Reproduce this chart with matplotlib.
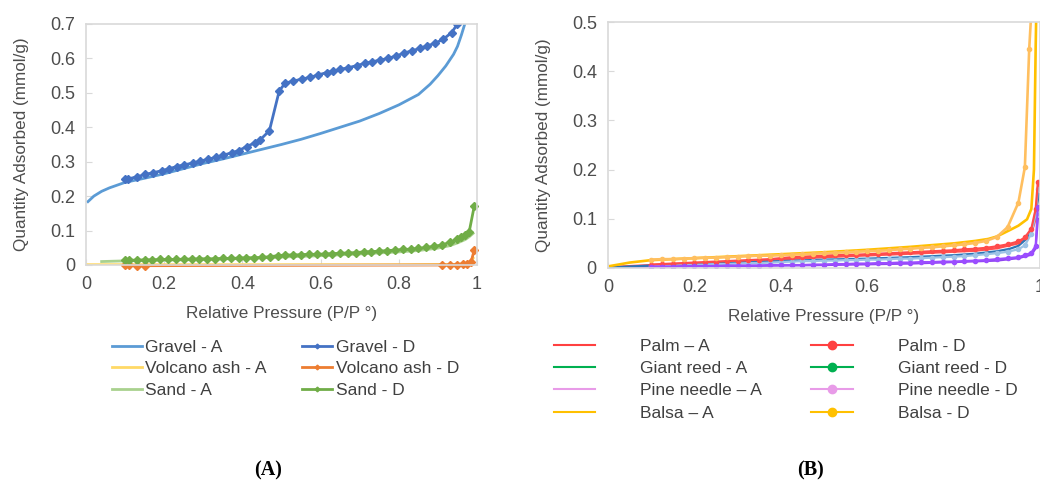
import matplotlib
matplotlib.use("Agg")
import matplotlib.pyplot as plt
from matplotlib.lines import Line2D

plt.rcParams['font.family'] = ['Liberation Sans', 'DejaVu Sans']

# ---------------- panel A data ----------------
gravel_a_x = [0.005, 0.02, 0.04, 0.06, 0.08, 0.1, 0.15, 0.2, 0.25, 0.3, 0.35, 0.4, 0.45, 0.5, 0.55,
              0.6, 0.65, 0.7, 0.75, 0.8, 0.85, 0.88, 0.9, 0.92, 0.94, 0.95, 0.96, 0.97, 0.98]
gravel_a_y = [0.184, 0.200, 0.214, 0.224, 0.232, 0.240, 0.252, 0.265, 0.280, 0.295, 0.308, 0.322, 0.336, 0.350, 0.365,
              0.382, 0.400, 0.418, 0.440, 0.465, 0.495, 0.525, 0.550, 0.578, 0.612, 0.635, 0.668, 0.705, 0.76]

gravel_d_x = [0.100, 0.108, 0.130, 0.151, 0.172, 0.194, 0.211, 0.232, 0.251, 0.273, 0.292, 0.313, 0.332, 0.351,
              0.373, 0.390, 0.411, 0.432, 0.445, 0.469, 0.494, 0.509, 0.530, 0.552, 0.573, 0.594, 0.616, 0.632,
              0.650, 0.671, 0.692, 0.714, 0.731, 0.752, 0.772, 0.793, 0.812, 0.833, 0.854, 0.871, 0.893, 0.914,
              0.935, 0.950]
gravel_d_y = [0.250, 0.250, 0.256, 0.263, 0.268, 0.274, 0.279, 0.286, 0.291, 0.296, 0.302, 0.307, 0.313, 0.319,
              0.326, 0.332, 0.344, 0.355, 0.363, 0.390, 0.505, 0.528, 0.534, 0.540, 0.545, 0.552, 0.559, 0.563,
              0.568, 0.573, 0.579, 0.586, 0.590, 0.595, 0.600, 0.607, 0.615, 0.622, 0.629, 0.636, 0.644, 0.656,
              0.675, 0.700]

volcano_a_x = [0.0, 0.2, 0.4, 0.6, 0.8, 0.95, 0.98, 0.99]
volcano_a_y = [0.001, 0.001, 0.001, 0.001, 0.001, 0.002, 0.006, 0.02]

volcano_d_x = [0.10, 0.11, 0.13, 0.15, 0.91, 0.93, 0.95, 0.965, 0.975, 0.985, 0.993]
volcano_d_y = [0.0, -0.001, -0.002, -0.002, 0.0, 0.0, 0.001, 0.002, 0.004, 0.01, 0.044]

sand_a_x = [0.04, 0.1, 0.2, 0.3, 0.4, 0.5, 0.6, 0.7, 0.8, 0.85, 0.9, 0.93, 0.95, 0.97, 0.98, 0.99]
sand_a_y = [0.010, 0.012, 0.014, 0.016, 0.019, 0.023, 0.027, 0.032, 0.038, 0.042, 0.049, 0.056, 0.064, 0.074, 0.082, 0.092]

sand_d_x = [0.10, 0.11, 0.13, 0.15, 0.17, 0.19, 0.21, 0.23, 0.25, 0.27, 0.29, 0.31, 0.33, 0.35, 0.37, 0.39,
            0.41, 0.43, 0.45, 0.47, 0.49, 0.51, 0.53, 0.55, 0.57, 0.59, 0.61, 0.63, 0.65, 0.67, 0.69, 0.71,
            0.73, 0.75, 0.77, 0.79, 0.81, 0.83, 0.85, 0.87, 0.89, 0.91, 0.93, 0.95, 0.96, 0.97, 0.98, 0.993]
sand_d_y = [0.014, 0.014, 0.014, 0.015, 0.015, 0.016, 0.016, 0.016, 0.017, 0.017, 0.018, 0.018, 0.018, 0.019, 0.019, 0.020,
            0.021, 0.021, 0.022, 0.024, 0.027, 0.029, 0.029, 0.030, 0.031, 0.031, 0.032, 0.033, 0.034, 0.035, 0.036, 0.038,
            0.039, 0.040, 0.042, 0.043, 0.045, 0.046, 0.048, 0.051, 0.054, 0.058, 0.066, 0.075, 0.082, 0.088, 0.097, 0.172]

# ---------------- panel B data ----------------
d_x = [0.10, 0.125, 0.15, 0.175, 0.20, 0.225, 0.25, 0.275, 0.30, 0.325, 0.35, 0.375, 0.40, 0.425, 0.45, 0.475,
       0.50, 0.525, 0.55, 0.575, 0.60, 0.625, 0.65, 0.675, 0.70, 0.725, 0.75, 0.775, 0.80, 0.825, 0.85, 0.875,
       0.90, 0.925, 0.95]

palm_a_x = [0.005, 0.1, 0.3, 0.5, 0.7, 0.85, 0.9, 0.95, 0.98, 0.99, 0.997]
palm_a_y = [0.002, 0.006, 0.013, 0.022, 0.029, 0.035, 0.040, 0.050, 0.07, 0.1, 0.17]
palm_d_x = d_x + [0.965, 0.98, 0.99, 0.995]
palm_d_y = [0.007, 0.008, 0.009, 0.010, 0.011, 0.012, 0.013, 0.014, 0.015, 0.016, 0.017, 0.018, 0.020, 0.022, 0.023, 0.024,
            0.025, 0.026, 0.027, 0.027, 0.028, 0.029, 0.030, 0.031, 0.032, 0.033, 0.034, 0.035, 0.036, 0.038, 0.039, 0.041,
            0.044, 0.048, 0.054, 0.062, 0.08, 0.12, 0.175]

reed_a_x = [0.005, 0.05, 0.1, 0.2, 0.3, 0.4, 0.5, 0.6, 0.7, 0.8, 0.85, 0.9, 0.93, 0.95, 0.97, 0.98, 0.99, 0.997]
reed_a_y = [0.001, 0.003, 0.005, 0.008, 0.011, 0.014, 0.017, 0.019, 0.022, 0.026, 0.029, 0.034, 0.039, 0.045, 0.06, 0.075, 0.11, 0.15]
reed_d_x = d_x + [0.965, 0.98, 0.99, 0.995]
reed_d_y = [0.004, 0.005, 0.005, 0.006, 0.007, 0.007, 0.008, 0.008, 0.009, 0.010, 0.010, 0.011, 0.012, 0.013, 0.014, 0.014,
            0.015, 0.015, 0.016, 0.016, 0.017, 0.017, 0.018, 0.019, 0.019, 0.020, 0.021, 0.022, 0.023, 0.024, 0.026, 0.028,
            0.030, 0.033, 0.038, 0.046, 0.07, 0.11, 0.16]

pine_a_x = [0.005, 0.1, 0.3, 0.5, 0.7, 0.9, 0.95, 0.98, 0.99, 0.995]
pine_a_y = [0.001, 0.003, 0.004, 0.006, 0.009, 0.015, 0.02, 0.027, 0.04, 0.1]
pine_d_x = d_x + [0.965, 0.98, 0.99, 0.995]
pine_d_y = [0.003, 0.003, 0.003, 0.004, 0.004, 0.004, 0.004, 0.005, 0.005, 0.005, 0.005, 0.006, 0.006, 0.006, 0.006, 0.007,
            0.007, 0.008, 0.008, 0.009, 0.009, 0.010, 0.010, 0.011, 0.011, 0.012, 0.012, 0.013, 0.013, 0.014, 0.015, 0.016,
            0.018, 0.020, 0.022, 0.026, 0.031, 0.045, 0.124]

balsa_a_x = [0.005, 0.05, 0.1, 0.2, 0.3, 0.4, 0.5, 0.6, 0.7, 0.8, 0.85, 0.88, 0.9, 0.93, 0.95, 0.97, 0.98, 0.986, 0.99, 0.993]
balsa_a_y = [0.004, 0.011, 0.016, 0.020, 0.024, 0.028, 0.032, 0.037, 0.043, 0.050, 0.055, 0.059, 0.064, 0.077, 0.086, 0.099,
             0.12, 0.2, 0.45, 0.6]
balsa_d_x = d_x + [0.965, 0.975, 0.985]
balsa_d_y = [0.017, 0.018, 0.018, 0.019, 0.020, 0.021, 0.021, 0.022, 0.023, 0.024, 0.025, 0.025, 0.026, 0.027, 0.028, 0.029,
             0.030, 0.031, 0.032, 0.033, 0.034, 0.035, 0.036, 0.038, 0.039, 0.041, 0.042, 0.044, 0.046, 0.048, 0.051, 0.055,
             0.063, 0.083, 0.133, 0.205, 0.445, 0.6]

xticks = [0, 0.2, 0.4, 0.6, 0.8, 1]
xtick_labels = ['0', '0.2', '0.4', '0.6', '0.8', '1']
yticks_a = [0, 0.1, 0.2, 0.3, 0.4, 0.5, 0.6, 0.7]
ytick_labels_a = ['0', '0.1', '0.2', '0.3', '0.4', '0.5', '0.6', '0.7']
yticks_b = [0, 0.1, 0.2, 0.3, 0.4, 0.5]
ytick_labels_b = ['0', '0.1', '0.2', '0.3', '0.4', '0.5']

legend_b_labels = ['Palm \u2013 A', 'Giant reed - A', 'Pine needle \u2013 A', 'Balsa \u2013 A',
                   'Palm - D', 'Giant reed - D', 'Pine needle - D', 'Balsa - D']
legend_b_colors = ['#FF4040', '#00B050', '#E89BE8', '#FFC000']

txt = '#4D4D4D'
grid_c = '#D9D9D9'


def style(ax, yt, ytl, ymax):
    ax.set_xlim(0, 1)
    ax.set_ylim(0, ymax)
    ax.set_xticks(xticks)
    ax.set_xticklabels(xtick_labels)
    ax.set_yticks(yt)
    ax.set_yticklabels(ytl)
    for s in ax.spines.values():
        s.set_color(grid_c)
        s.set_linewidth(1.2)
    ax.tick_params(direction='in', length=4, color=grid_c, labelcolor=txt, labelsize=13, pad=8)
    ax.set_xlabel('Relative Pressure (P/P \u00b0)', color=txt, fontsize=12.3, labelpad=9)
    ax.set_ylabel('Quantity Adsorbed (mmol/g)', color=txt, fontsize=12.3, labelpad=15)


fig = plt.figure(figsize=(10.4, 4.84), dpi=100)

# ---------------- panel A ----------------
axA = fig.add_axes([0.0827, 0.4525, 0.376, 0.498])
style(axA, yticks_a, ytick_labels_a, 0.7)
hA = []
hA.append(axA.plot(gravel_a_x, gravel_a_y, color='#5B9BD5', lw=2, label='Gravel - A')[0])
hA.append(axA.plot(volcano_a_x, volcano_a_y, color='#FFD966', lw=2, label='Volcano ash - A')[0])
hA.append(axA.plot(sand_a_x, sand_a_y, color='#A9D18E', lw=2, label='Sand - A')[0])
hA.append(axA.plot(gravel_d_x, gravel_d_y, color='#4472C4', lw=2, marker='D', ms=4, label='Gravel - D')[0])
hA.append(axA.plot(volcano_d_x, volcano_d_y, color='#ED7D31', lw=2, marker='D', ms=4, clip_on=False,
                   label='Volcano ash - D')[0])
hA.append(axA.plot(sand_d_x, sand_d_y, color='#70AD47', lw=2, marker='D', ms=4, clip_on=False,
                   label='Sand - D')[0])

fig.legend(handles=hA, loc='upper left', bbox_to_anchor=(0.099, 0.316), ncol=2, frameon=False,
           fontsize=12.5, handlelength=1.75, handletextpad=0.2, columnspacing=2.0, labelspacing=0.37,
           borderpad=0, labelcolor='#404040', markerscale=0.6)

# ---------------- panel B ----------------
axB = fig.add_axes([0.5846, 0.4463, 0.4154, 0.5082])
style(axB, yticks_b, ytick_labels_b, 0.5)
axB.plot(palm_a_x, palm_a_y, color='#FF5050', lw=1.6)
axB.plot(pine_a_x, pine_a_y, color='#8F44F0', lw=1.6)
axB.plot(reed_a_x, reed_a_y, color='#2E75B6', lw=1.6)
axB.plot(reed_d_x, reed_d_y, color='#9DC3E6', lw=1.6, marker='o', ms=3)
axB.plot(palm_d_x, palm_d_y, color='#FF4B4B', lw=1.6, marker='o', ms=3)
axB.plot(pine_d_x, pine_d_y, color='#9B4DFF', lw=1.6, marker='o', ms=3)
axB.plot(balsa_a_x, balsa_a_y, color='#FFC000', lw=1.9)
axB.plot(balsa_d_x, balsa_d_y, color='#FFBF5F', lw=1.9, marker='o', ms=3)

hB = [Line2D([], [], color=c, lw=1.5) for c in legend_b_colors]
hB += [Line2D([], [], color=c, lw=1.5, marker='o', ms=6) for c in legend_b_colors]
fig.legend(handles=hB, labels=legend_b_labels, loc='upper left', bbox_to_anchor=(0.524, 0.318), ncol=2,
           frameon=False, fontsize=12.5, handlelength=2.4, handletextpad=2.6, columnspacing=2.8,
           labelspacing=0.41, borderpad=0, labelcolor='#404040')

fig.text(0.258, 0.028, '(A)', family=['Liberation Serif', 'DejaVu Serif'], fontweight='bold',
         fontsize=14.5, ha='center', va='center', color='black')
fig.text(0.779, 0.028, '(B)', family=['Liberation Serif', 'DejaVu Serif'], fontweight='bold',
         fontsize=14.5, ha='center', va='center', color='black')

fig.savefig('out.png', dpi=100)
